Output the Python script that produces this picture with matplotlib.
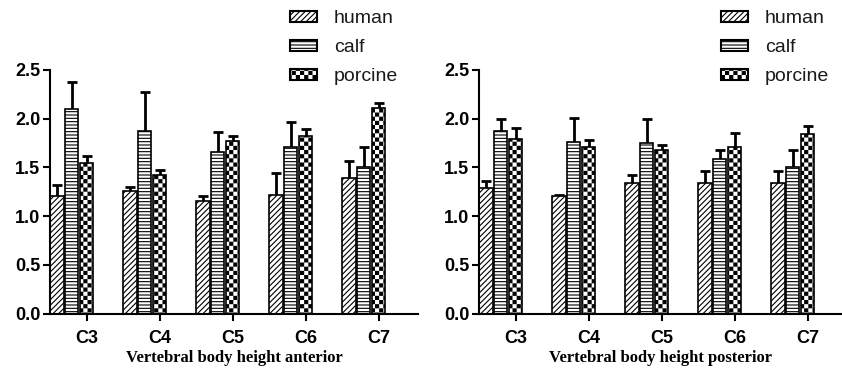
import numpy as np
import matplotlib
matplotlib.use("Agg")
import matplotlib.pyplot as plt
import matplotlib.hatch as mhatch
from matplotlib.path import Path

# data --------------------------------------------------------------------
categories = ["C3", "C4", "C5", "C6", "C7"]
series = ["human", "calf", "porcine"]

ant_human = [1.21, 1.26, 1.15, 1.22, 1.39]
ant_human_err = [0.11, 0.04, 0.06, 0.22, 0.18]
ant_calf = [2.10, 1.87, 1.66, 1.71, 1.50]
ant_calf_err = [0.28, 0.40, 0.20, 0.26, 0.21]
ant_porcine = [1.55, 1.42, 1.77, 1.82, 2.11]
ant_porcine_err = [0.07, 0.05, 0.05, 0.07, 0.05]

post_human = [1.29, 1.21, 1.34, 1.34, 1.34]
post_human_err = [0.07, 0.01, 0.08, 0.12, 0.12]
post_calf = [1.87, 1.76, 1.75, 1.59, 1.50]
post_calf_err = [0.13, 0.25, 0.25, 0.09, 0.18]
post_porcine = [1.79, 1.71, 1.68, 1.71, 1.84]
post_porcine_err = [0.11, 0.07, 0.05, 0.14, 0.08]

yticks = [0.0, 0.5, 1.0, 1.5, 2.0, 2.5]

HATCH_LW = 0.8
plt.rcParams["hatch.linewidth"] = HATCH_LW
plt.rcParams["hatch.color"] = "black"


# checkerboard hatch (takes over the 'O' hatch character) -----------------
class CheckerHatch(mhatch.HatchPatternBase):
    def __init__(self, hatch, density):
        self.num_cells = hatch.count("O") * density
        self.num_vertices = (self.num_cells ** 2 // 2) * 5

    def set_vertices_and_codes(self, vertices, codes):
        n = self.num_cells
        step = 1.0 / n
        inset = HATCH_LW / 2 / 72
        parts = []
        for row in range(n):
            for col in range(row % 2, n, 2):
                x0, y0 = col * step + inset, row * step + inset
                x1, y1 = (col + 1) * step - inset, (row + 1) * step - inset
                parts.append([[x0, y0], [x1, y0], [x1, y1], [x0, y1], [x0, y0]])
        vertices[:] = np.array(parts).reshape(-1, 2)
        codes[:] = np.tile([Path.MOVETO, Path.LINETO, Path.LINETO,
                            Path.LINETO, Path.CLOSEPOLY], len(parts))


mhatch._hatch_types = [h for h in mhatch._hatch_types
                       if h is not mhatch.LargeCircles] + [CheckerHatch]

HATCHES = ["//////", "-----", "OOOO"]
OFFSETS = [-0.205, 0.0, 0.205]
BAR_W = 0.185

fig = plt.figure(figsize=(8.42, 3.73), dpi=100)
W, H = 842.0, 373.0


def panel(rect, vals, errs, xlabel, xmax):
    ax = fig.add_axes(rect)
    x = np.arange(len(categories))
    handles = []
    for k in range(3):
        xs = x + OFFSETS[k]
        b = ax.bar(xs, vals[k], width=BAR_W, color="white", edgecolor="black",
                   linewidth=1.2, hatch=HATCHES[k], label=series[k], zorder=2)
        handles.append(b)
        eb = ax.errorbar(xs, vals[k], yerr=[np.zeros(len(xs)), errs[k]],
                         fmt="none", ecolor="black", elinewidth=2.0,
                         capsize=3.5, capthick=2.0, zorder=1)
        eb[1][0].remove()  # drop the lower cap sitting on the bar top
    ax.set_xlim(OFFSETS[0] - BAR_W / 2, xmax)
    ax.set_ylim(0, 2.5)
    ax.set_yticks(yticks)
    ax.set_yticklabels([f"{t:.1f}" for t in yticks])
    ax.set_xticks(x + OFFSETS[2])
    ax.set_xticklabels(categories)
    for s in ["top", "right"]:
        ax.spines[s].set_visible(False)
    for s in ["left", "bottom"]:
        ax.spines[s].set_linewidth(1.5)
    ax.tick_params(axis="both", direction="out", length=5, width=1.5,
                   labelsize=13)
    ax.tick_params(axis="y", pad=2)
    ax.tick_params(axis="x", pad=7)
    for lab in ax.get_xticklabels() + ax.get_yticklabels():
        lab.set_fontweight("bold")
        lab.set_family("Liberation Sans")
    ax.set_xlabel(xlabel, fontfamily="Liberation Serif", fontweight="bold",
                  fontsize=12, labelpad=2)
    return ax, handles


px = 73.0  # pixels per group
left_ax, h1 = panel([50 / W, 59.5 / H, 368 / W, 243.5 / H],
                    [ant_human, ant_calf, ant_porcine],
                    [ant_human_err, ant_calf_err, ant_porcine_err],
                    "Vertebral body height anterior",
                    OFFSETS[0] - BAR_W / 2 + 368 / px)
right_ax, h2 = panel([479 / W, 59.5 / H, 363 / W, 243.5 / H],
                     [post_human, post_calf, post_porcine],
                     [post_human_err, post_calf_err, post_porcine_err],
                     "Vertebral body height posterior",
                     OFFSETS[0] - BAR_W / 2 + 363 / px)

for ax, hs, x0 in [(left_ax, h1, 290), (right_ax, h2, 721)]:
    leg = ax.legend(hs, series, loc="upper left",
                    bbox_to_anchor=(x0 / W, 1 - 10 / H),
                    bbox_transform=fig.transFigure,
                    frameon=False, borderaxespad=0, borderpad=0,
                    handlelength=1.4, handleheight=0.5, handletextpad=0.85,
                    labelspacing=0.62,
                    prop={"family": "Liberation Sans", "size": 14},
                    labelcolor="#1a1a1a")
    for p in leg.get_patches():
        p.set_linewidth(1.5)

fig.savefig("out.png", dpi=100, facecolor="white")
